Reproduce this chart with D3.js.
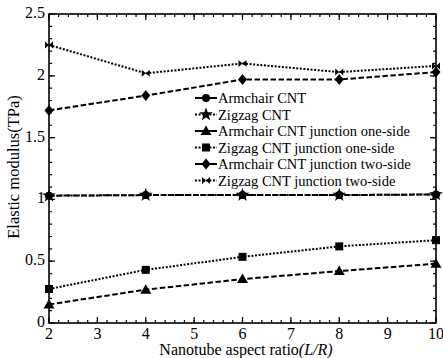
<!DOCTYPE html>
<html>
<head>
<meta charset="utf-8">
<script src="https://cdn.jsdelivr.net/npm/d3@7"></script>
<style>
  body { margin: 0; background: #fff; }
  svg { display: block; font-family: "Liberation Serif", "Times New Roman", serif; }
</style>
</head>
<body>
<svg id="chart" width="443" height="358"></svg>
<script>
var ratios = [2, 4, 6, 8, 10];
var armchairCnt = [1.03, 1.035, 1.035, 1.035, 1.04];
var zigzagCnt = [1.03, 1.035, 1.035, 1.035, 1.04];
var armchairOneSide = [0.15, 0.27, 0.355, 0.42, 0.48];
var zigzagOneSide = [0.275, 0.43, 0.535, 0.62, 0.67];
var armchairTwoSide = [1.72, 1.84, 1.97, 1.97, 2.03];
var zigzagTwoSide = [2.25, 2.02, 2.10, 2.03, 2.08];
var seriesNames = ['Armchair CNT', 'Zigzag CNT', 'Armchair CNT junction one-side',
  'Zigzag CNT junction one-side', 'Armchair CNT junction two-side', 'Zigzag CNT junction two-side'];
var xTicks = [2, 3, 4, 5, 6, 7, 8, 9, 10];
var yTicks = [0, 0.5, 1, 1.5, 2, 2.5];

var DASH = '5.5,2.5', DOT = '2,1.6';
var series = [
  { name: seriesNames[1], values: zigzagCnt, dash: DOT, marker: 'star' },
  { name: seriesNames[0], values: armchairCnt, dash: DASH, marker: 'circle' },
  { name: seriesNames[2], values: armchairOneSide, dash: DASH, marker: 'triangle' },
  { name: seriesNames[3], values: zigzagOneSide, dash: DOT, marker: 'square' },
  { name: seriesNames[4], values: armchairTwoSide, dash: DASH, marker: 'diamond' },
  { name: seriesNames[5], values: zigzagTwoSide, dash: DOT, marker: 'bowtie' }
];
var legendOrder = [1, 0, 2, 3, 4, 5];

var svg = d3.select('#chart');
var pLeft = 49, pRight = 436, pTop = 14, pBottom = 323;
var x = d3.scaleLinear().domain([2, 10]).range([pLeft, pRight]);
var y = d3.scaleLinear().domain([0, 2.5]).range([pBottom, pTop]);

function markerPath(type) {
  if (type === 'circle') return d3.symbol(d3.symbolCircle, 50)();
  if (type === 'star') return d3.symbol(d3.symbolStar, 60)();
  if (type === 'triangle') return 'M0,-5.5L5.5,4L-5.5,4Z';
  if (type === 'square') return 'M-4,-4H4V4H-4Z';
  if (type === 'diamond') return 'M0,-5.5L4.5,0L0,5.5L-4.5,0Z';
  if (type === 'bowtie') return 'M-4,-3.5L0,0L-4,3.5ZM4,-3.5L0,0L4,3.5Z';
}

// ticks point inward on all four sides
function minorTicks(scale, step, n) {
  var d = scale.domain(), out = [];
  for (var i = 0; i <= n; i++) out.push(d[0] + i * step);
  return out;
}
var xMinor = minorTicks(x, 0.2, 40);
var yMinor = minorTicks(y, 0.1, 25);

var axes = svg.append('g').attr('stroke', '#000').attr('stroke-width', 1.2);
axes.selectAll('.xmin').data(xMinor).enter().append('path')
  .attr('d', function (d) { return 'M' + x(d) + ',' + pBottom + 'v-3M' + x(d) + ',' + pTop + 'v3'; });
axes.selectAll('.xmaj').data(xTicks).enter().append('path')
  .attr('d', function (d) { return 'M' + x(d) + ',' + pBottom + 'v-6M' + x(d) + ',' + pTop + 'v6'; });
axes.selectAll('.ymin').data(yMinor).enter().append('path')
  .attr('d', function (d) { return 'M' + pLeft + ',' + y(d) + 'h3M' + pRight + ',' + y(d) + 'h-3'; });
axes.selectAll('.ymaj').data(yTicks).enter().append('path')
  .attr('d', function (d) { return 'M' + pLeft + ',' + y(d) + 'h6M' + pRight + ',' + y(d) + 'h-6'; });
svg.append('rect')
  .attr('x', pLeft).attr('y', pTop).attr('width', pRight - pLeft).attr('height', pBottom - pTop)
  .attr('fill', 'none').attr('stroke', '#000').attr('stroke-width', 1.6);

svg.selectAll('.xl').data(xTicks).enter().append('text')
  .attr('x', function (d) { return x(d); }).attr('y', 339)
  .attr('text-anchor', 'middle').attr('font-size', 16).text(function (d) { return d; });
svg.selectAll('.yl').data(yTicks).enter().append('text')
  .attr('x', pLeft - 4).attr('y', function (d) { return y(d) + 4; })
  .attr('text-anchor', 'end').attr('font-size', 16).text(function (d) { return d; });

var xt = svg.append('text').attr('x', 246).attr('y', 355).attr('text-anchor', 'middle').attr('font-size', 16);
xt.append('tspan').text('Nanotube aspect ratio');
xt.append('tspan').attr('font-style', 'italic').text('(L/R)');
svg.append('text').attr('transform', 'translate(19,167) rotate(-90)')
  .attr('text-anchor', 'middle').attr('font-size', 16.5).text('Elastic modulus(TPa)');

// lines
var line = d3.line().x(function (d) { return x(d[0]); }).y(function (d) { return y(d[1]); });
series.forEach(function (s) {
  var pts = ratios.map(function (r, i) { return [r, s.values[i]]; });
  svg.append('path').datum(pts).attr('d', line)
    .attr('fill', 'none').attr('stroke', '#000').attr('stroke-width', 2)
    .attr('stroke-dasharray', s.dash);
  svg.selectAll(null).data(pts).enter().append('path')
    .attr('transform', function (d) { return 'translate(' + x(d[0]) + ',' + y(d[1]) + ')'; })
    .attr('d', markerPath(s.marker)).attr('fill', '#000');
});

// legend
var lg = svg.append('g');
legendOrder.forEach(function (k, i) {
  var s = series[k];
  var ly = 98 + i * 16.5;
  lg.append('line').attr('x1', 195).attr('x2', 217).attr('y1', ly).attr('y2', ly)
    .attr('stroke', '#000').attr('stroke-width', 2).attr('stroke-dasharray', s.dash === DASH ? null : DOT);
  lg.append('path').attr('transform', 'translate(206,' + ly + ')').attr('d', markerPath(s.marker)).attr('fill', '#000');
  lg.append('text').attr('x', 218).attr('y', ly + 5).attr('font-size', 14.5).text(s.name);
});
</script>
</body>
</html>
